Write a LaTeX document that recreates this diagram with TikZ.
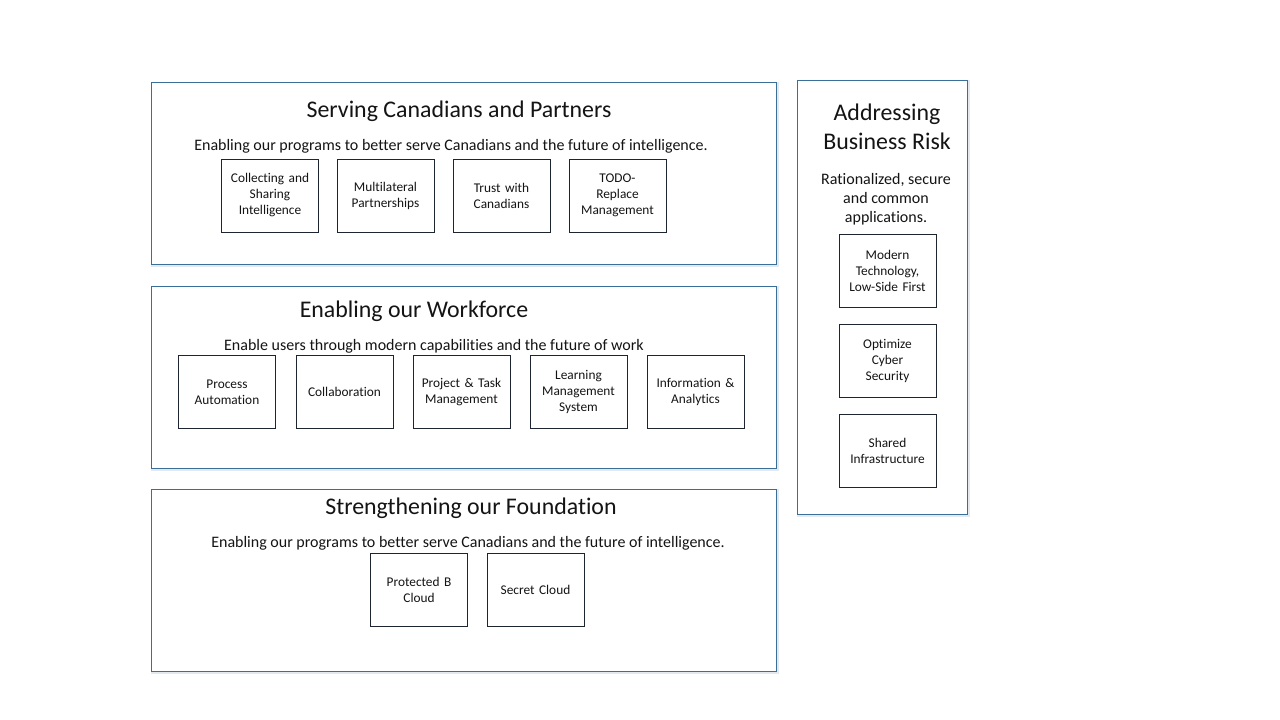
\documentclass[tikz,border=0pt]{standalone}
\usepackage{fontspec}
\setmainfont{Carlito}[Ligatures=NoCommon]
\definecolor{outerblue}{HTML}{3A6F9A}
\definecolor{shadowc}{HTML}{E3E9EE}
\definecolor{innerc}{HTML}{1C2530}
\definecolor{txt}{HTML}{141414}
\begin{document}
\begin{tikzpicture}[x=0.75pt,y=-0.75pt,
  outerbox/.style={draw=outerblue, line width=0.7pt, fill=white, inner sep=0pt, minimum width=#1},
  shadowbox/.style={draw=shadowc, line width=2pt, inner sep=0pt},
  itembox/.style={draw=innerc, line width=0.7pt, fill=white, inner sep=1pt, minimum width=72.75pt, minimum height=54.75pt, align=center, text width=70pt, font=\fontsize{10}{12}\selectfont, text=txt},
  titletext/.style={font=\fontsize{17.9}{21.75}\selectfont, text=txt, align=center, inner sep=0pt},
  subtext/.style={font=\fontsize{12}{14.25}\selectfont, text=txt, align=center, inner sep=0pt}
]
\useasboundingbox (0,0) rectangle (1280,720);
\fill[white] (0,0) rectangle (1280,720);
% shadows
\draw[shadowbox] (152,83) rectangle (777.5,265.5);
\draw[shadowbox] (152,287) rectangle (777.5,469.5);
\draw[shadowbox] (152,490) rectangle (777.5,672.5);
\draw[shadowbox] (798,81) rectangle (968.5,515.5);
% outer boxes
\node[outerbox=468.75pt, minimum height=136.5pt] (serve) at (463.5,173) {};
\node[outerbox=468.75pt, minimum height=136.5pt] (work) at (463.5,377) {};
\node[outerbox=468.75pt, minimum height=136.5pt] (found) at (463.5,580) {};
\node[outerbox=127.5pt, minimum height=325.5pt] (risk) at (882,297) {};
% titles
\node[titletext] (t1) at (459,111) {Serving Canadians and Partners};
\node[subtext] (s1) at (451,146) {Enabling our programs to better serve Canadians and the future of intelligence.};
\node[titletext] (t2) at (414,311) {Enabling our Workforce};
\node[subtext] (s2) at (434,346) {Enable users through\ modern\ capabilities and the future of work};
\node[titletext] (t3) at (471,508) {Strengthening our Foundation};
\node[subtext] (s3) at (468,543) {Enabling our programs to better serve Canadians and the future of intelligence.};
\node[titletext] (t4) at (887,126.5) {Addressing\\Business Risk};
\node[subtext] (s4) at (886,199) {Rationalized, secure\\and common\\applications.};
% row 1
\node[itembox] (a1) at (270,195.5) {Collecting and\\Sharing\\Intelligence};
\node[itembox] (a2) at (385.5,195.5) {Multilateral\\Partnerships};
\node[itembox] (a3) at (501.5,195.5) {Trust with\\Canadians};
\node[itembox] (a4) at (617.5,195.5) {TODO-\\Replace\\Management};
% row 2
\node[itembox] (b1) at (227,392) {Process\\Automation};
\node[itembox] (b2) at (344.5,392) {Collaboration};
\node[itembox] (b3) at (461.5,392) {Project \& Task\\Management};
\node[itembox] (b4) at (578.5,392) {Learning\\Management\\System};
\node[itembox] (b5) at (695.5,392) {Information \&\\Analytics};
% row 3
\node[itembox] (c1) at (419,589.5) {Protected B\\Cloud};
\node[itembox] (c2) at (535.5,589.5) {Secret Cloud};
% right column
\node[itembox] (d1) at (887.5,270.5) {Modern\\Technology,\\Low-Side First};
\node[itembox] (d2) at (887.5,361) {Optimize\\Cyber\\Security};
\node[itembox] (d3) at (887.5,451) {Shared\\Infrastructure};
\end{tikzpicture}
\end{document}
